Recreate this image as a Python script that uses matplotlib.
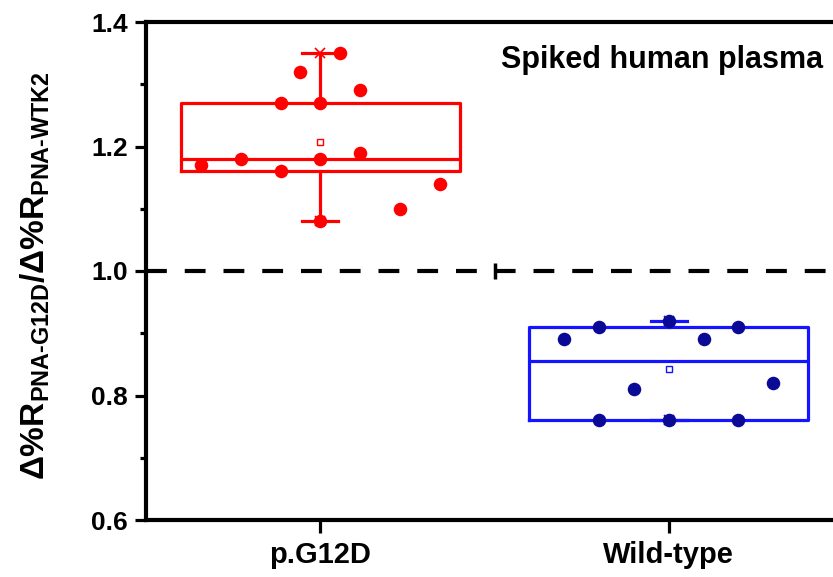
import numpy as np
import matplotlib
matplotlib.use("Agg")
import matplotlib.pyplot as plt
from matplotlib.ticker import MultipleLocator

# ---- data ----
categories = ["p.G12D", "Wild-type"]
g12d_values = [1.17, 1.18, 1.16, 1.27, 1.32, 1.27, 1.18, 1.08, 1.35, 1.29, 1.19, 1.10, 1.14]
g12d_jitter = [-0.343, -0.228, -0.113, -0.113, -0.057, 0.0, 0.0, 0.0, 0.057, 0.114, 0.114, 0.229, 0.343]
wt_values = [0.89, 0.91, 0.76, 0.81, 0.92, 0.76, 0.89, 0.91, 0.76, 0.82]
wt_jitter = [-0.3, -0.2, -0.2, -0.1, 0.0, 0.0, 0.1, 0.2, 0.2, 0.3]
reference_level = 1.0
yticks = [0.6, 0.8, 1.0, 1.2, 1.4]
annotation = "Spiked human plasma"

plt.rcParams["font.family"] = ["Liberation Sans", "DejaVu Sans"]
plt.rcParams["font.weight"] = "bold"
plt.rcParams["mathtext.fontset"] = "custom"
plt.rcParams["mathtext.rm"] = "Liberation Sans:bold"
plt.rcParams["mathtext.bf"] = "Liberation Sans:bold"
plt.rcParams["mathtext.it"] = "Liberation Sans:bold"
plt.rcParams["mathtext.sf"] = "Liberation Sans:bold"

fig = plt.figure(figsize=(8.33, 5.77), dpi=100)
ax = fig.add_axes([146 / 833, 1 - 520 / 577, 697 / 833, 498 / 577])

groups = [
    (g12d_values, g12d_jitter, "#FF0000", "#FF0000"),
    (wt_values, wt_jitter, "#1414FF", "#0A0A96"),
]

for i, (vals, jit, boxc, ptc) in enumerate(groups):
    pos = i + 1
    v = np.asarray(vals)
    stats = [dict(
        med=np.median(v),
        q1=np.percentile(v, 25, method="nearest"),
        q3=np.percentile(v, 75, method="nearest"),
        whislo=v.min(),
        whishi=v.max(),
        mean=v.mean(),
        fliers=[],
    )]
    ax.bxp(stats, positions=[pos], widths=0.8, capwidths=0.104, showmeans=True,
           showfliers=False, manage_ticks=False,
           boxprops=dict(color=boxc, lw=2.3),
           medianprops=dict(color=boxc, lw=2.3),
           whiskerprops=dict(color=boxc, lw=2.3),
           capprops=dict(color=boxc, lw=2.3),
           meanprops=dict(marker="s", markerfacecolor="white", markeredgecolor=boxc,
                          markersize=5, markeredgewidth=1.0))
    ax.plot([pos, pos], [v.min(), v.max()], ls="none", marker="x", color=boxc,
            ms=7, mew=1.2, zorder=3)
    ax.scatter(pos + np.asarray(jit), v, s=95, color=ptc, zorder=4, linewidths=0)

ax.axhline(reference_level, color="black", lw=3, ls=(0, (5.0, 4.3)), zorder=1)
ax.plot([1.5], [reference_level], marker="|", color="black", ms=12, mew=2.5, zorder=1)

ax.set_xlim(0.5, 2.5)
ax.set_ylim(0.6, 1.4)
ax.set_xticks([1, 2])
ax.set_xticklabels(categories, fontsize=21, fontweight="bold")
ax.set_yticks(yticks)
ax.set_yticklabels([f"{t:.1f}" for t in yticks], fontsize=19, fontweight="bold")
ax.yaxis.set_minor_locator(MultipleLocator(0.1))

for s in ["left", "bottom", "top"]:
    ax.spines[s].set_linewidth(3)
ax.spines["right"].set_visible(False)

ax.tick_params(axis="y", which="major", length=8, width=2.3, pad=5, direction="out")
ax.tick_params(axis="y", which="minor", length=4.5, width=2.3, direction="out")
ax.tick_params(axis="x", which="major", length=9, width=2.3, pad=6, direction="out")

ax.set_ylabel(r"Δ%R$_{\mathrm{PNA\text{-}G12D}}$/Δ%R$_{\mathrm{PNA\text{-}WTK2}}$",
              fontsize=24, fontweight="bold")
ax.yaxis.set_label_coords(-0.135, 0.49)

fig.text(823 / 833, 1 - 60 / 577, annotation, ha="right", va="center",
         fontsize=22, fontweight="bold")

fig.savefig("out.png", dpi=100)
